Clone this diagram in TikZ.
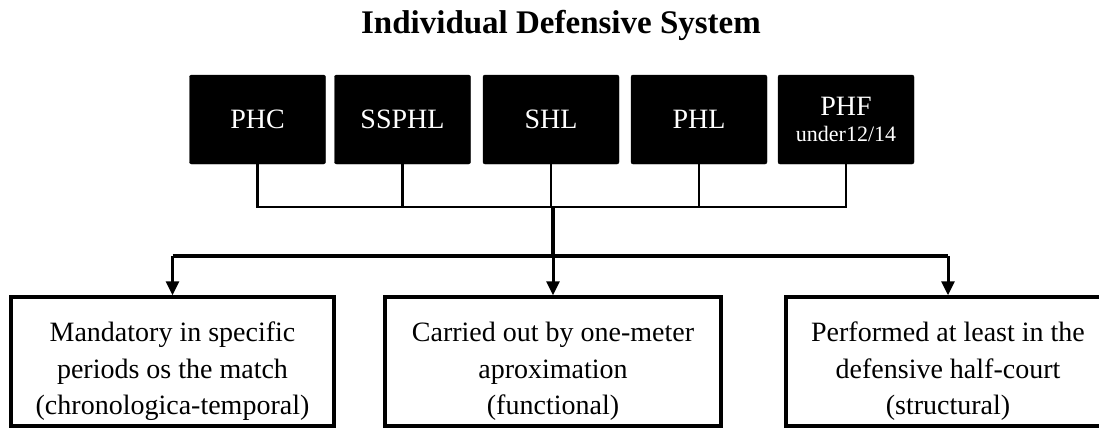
\documentclass[tikz,border=0pt]{standalone}
\usepackage{fontspec}
\setmainfont{Liberation Serif}
\usetikzlibrary{arrows.meta}
\begin{document}
\begin{tikzpicture}[x=1pt,y=-1pt,
  topbox/.style={fill=black, draw=black, rounded corners=2pt, minimum width=136pt, minimum height=89pt,
    text=white, font=\fontsize{28}{30}\selectfont, inner sep=0pt, align=center},
  botbox/.style={draw=black, line width=3.5pt, minimum height=129pt, inner sep=0pt},
  bottext/.style={align=center, font=\fontsize{28}{36.5}\selectfont, inner sep=0pt},
  conn/.style={line width=2.2pt},
  trunk/.style={line width=3.5pt},
  arr/.style={line width=3pt, -{Triangle[width=13pt,length=14pt]}}
]
\useasboundingbox (0,0) rectangle (1099,428);
\node[font=\fontsize{33}{36}\selectfont\bfseries, anchor=base, inner sep=0pt] (title) at (561,34) {Individual Defensive System};

\node[topbox] (phc) at (257.5,119.5) {PHC};
\node[topbox] (ssphl) at (402.5,119.5) {SSPHL};
\node[topbox] (shl) at (551,119.5) {SHL};
\node[topbox] (phl) at (699,119.5) {PHL};
\node[topbox] (phf) at (846,119.5) {PHF\\[-4pt]{\fontsize{22}{24}\selectfont under12/14}};

\coordinate (bus) at (553,207);
\coordinate (split) at (553,256);

\node[botbox, minimum width=323pt] (left) at (172.5,361.5) {};
\node[botbox, minimum width=336pt] (mid) at (553,361.5) {};
\node[botbox, minimum width=324pt] (right) at (948,361.5) {};

\node[bottext, yshift=-10pt] (lefttext) at (left.center) {Mandatory in specific\\periods os the match\\(chronologica-temporal)};
\node[bottext, yshift=-10pt] (midtext) at (mid.center) {Carried out by one-meter\\aproximation\\(functional)};
\node[bottext, yshift=-10pt] (righttext) at (right.center) {Performed at least in the\\defensive half-court\\(structural)};

\draw[conn] (phc.south) |- (phf.south |- bus) -- (phf.south);
\draw[conn] (ssphl.south) -- (ssphl.south |- bus);
\draw[conn] (shl.south) -- (shl.south |- bus);
\draw[conn] (phl.south) -- (phl.south |- bus);

\draw[trunk] (bus) -- (split);
\draw[trunk] (left.north |- split) -- (right.north |- split);
\draw[arr] (left.north |- split) -- (left.north);
\draw[arr] (split) -- (mid.north);
\draw[arr] (right.north |- split) -- (right.north);
\end{tikzpicture}
\end{document}
